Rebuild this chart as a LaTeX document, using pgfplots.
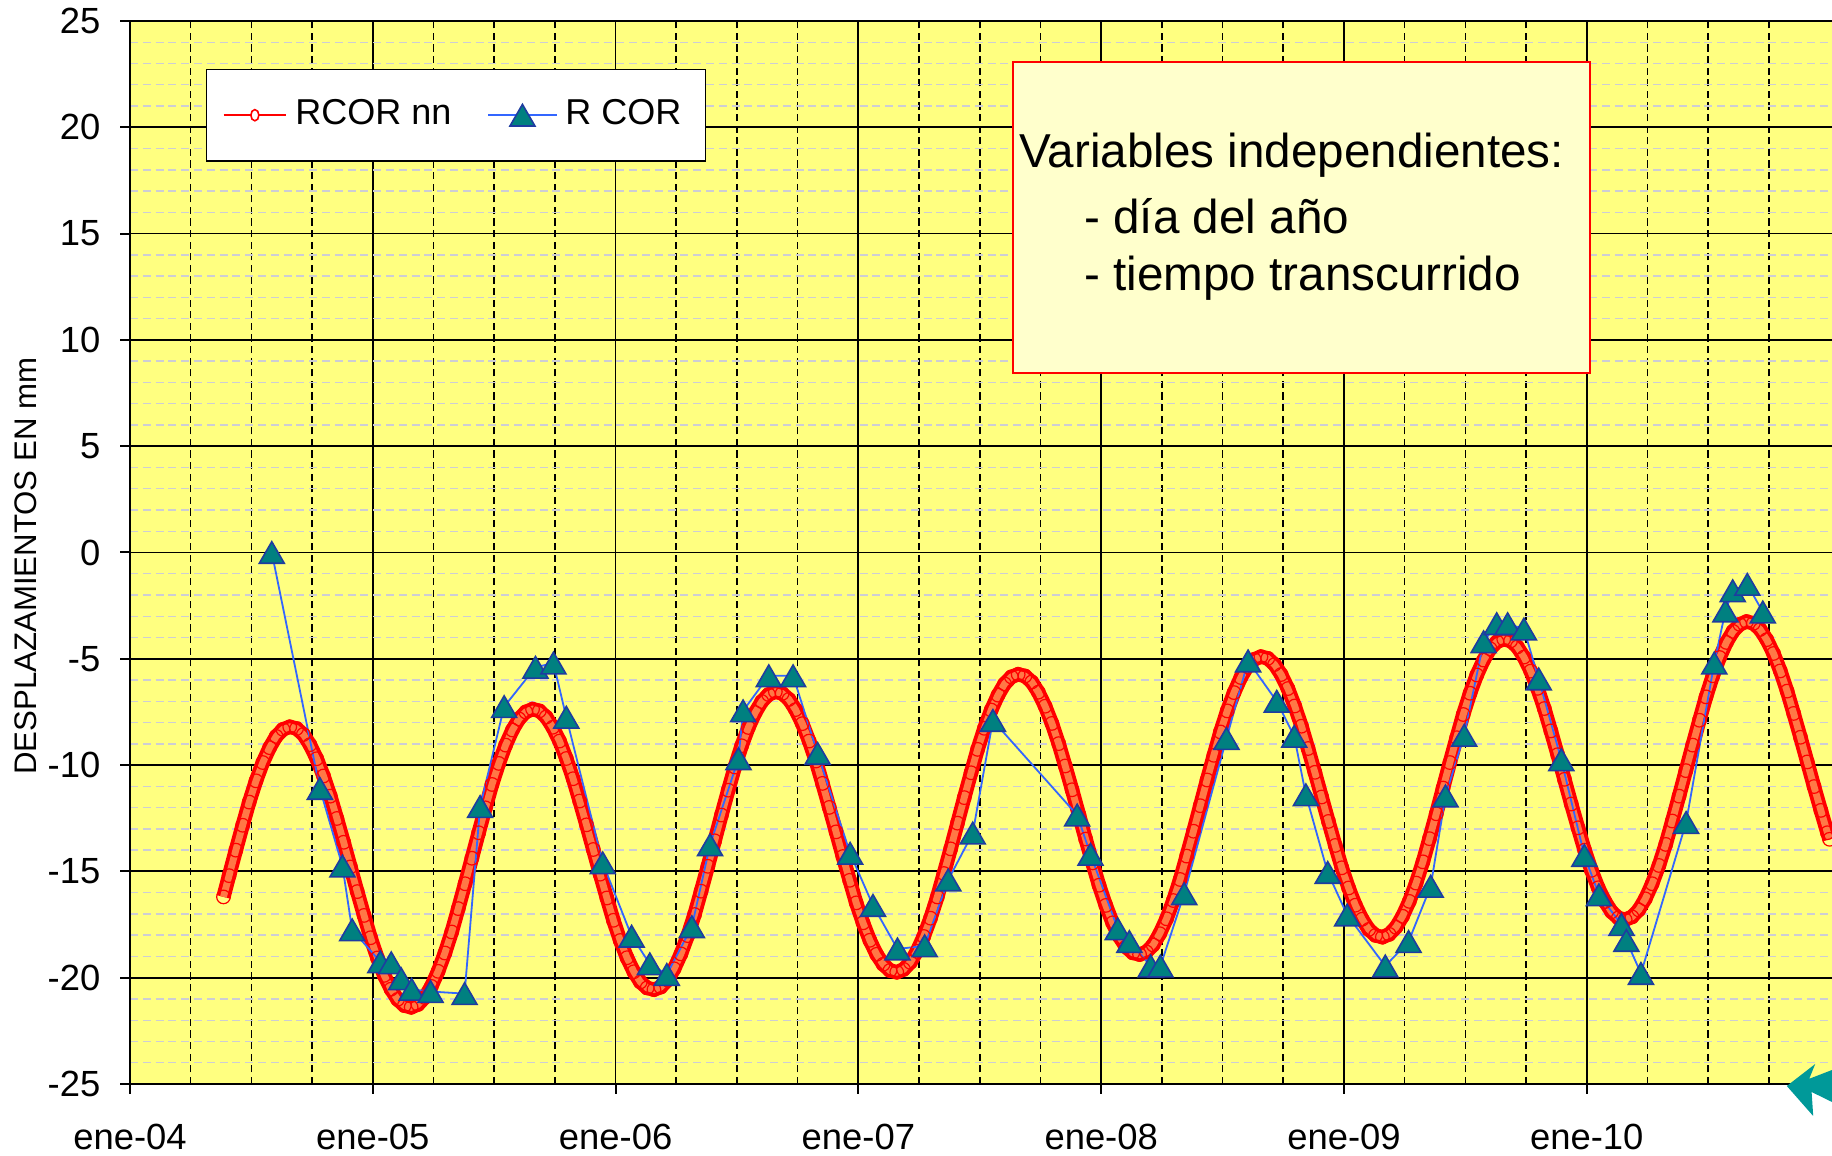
\documentclass[border=0pt]{standalone}
\usepackage{fontspec}
\setmainfont{Liberation Sans}
\usepackage{pgfplots}
\usepackage{pgfplotstable}
\pgfplotsset{compat=1.18}

\definecolor{plotyellow}{RGB}{255,255,128}
\definecolor{boxyellow}{RGB}{255,255,204}
\definecolor{lineblue}{RGB}{51,102,255}
\definecolor{markteal}{RGB}{0,128,128}
\definecolor{markedge}{RGB}{30,60,160}
\definecolor{minorgray}{RGB}{205,205,212}
\definecolor{arrowteal}{RGB}{0,153,153}
\definecolor{bandfill}{RGB}{255,120,70}

% RCOR nn (modelo): x = anos desde ene-04
\pgfplotstableread[row sep=\\]{
x y\\
0.385 -16.20\\
0.408 -15.20\\ 0.436 -14.00\\ 0.464 -12.83\\ 0.491 -11.74\\ 0.519 -10.74\\ 0.547 -9.88\\ 0.575 -9.18\\ 0.602 -8.65\\ 0.630 -8.32\\
0.658 -8.20\\ 0.686 -8.28\\ 0.714 -8.56\\ 0.741 -9.04\\ 0.769 -9.70\\ 0.797 -10.51\\ 0.825 -11.46\\ 0.852 -12.51\\ 0.880 -13.63\\ 0.908 -14.79\\ 0.936 -15.95\\ 0.964 -17.07\\ 0.991 -18.12\\ 1.019 -19.07\\ 1.047 -19.89\\ 1.075 -20.54\\ 1.102 -21.02\\ 1.130 -21.31\\ 1.158 -21.39\\ 1.186 -21.26\\ 1.214 -20.93\\ 1.241 -20.41\\ 1.269 -19.70\\ 1.297 -18.84\\ 1.325 -17.85\\ 1.352 -16.75\\ 1.380 -15.58\\ 1.408 -14.38\\ 1.436 -13.18\\ 1.464 -12.01\\ 1.491 -10.91\\ 1.519 -9.92\\ 1.547 -9.06\\ 1.575 -8.35\\ 1.602 -7.83\\ 1.630 -7.50\\
1.658 -7.37\\ 1.686 -7.45\\ 1.714 -7.74\\ 1.741 -8.22\\ 1.769 -8.87\\ 1.797 -9.69\\ 1.825 -10.64\\ 1.852 -11.69\\ 1.880 -12.81\\ 1.908 -13.97\\ 1.936 -15.13\\ 1.964 -16.25\\ 1.991 -17.30\\ 2.019 -18.25\\ 2.047 -19.06\\ 2.075 -19.72\\ 2.102 -20.20\\ 2.130 -20.48\\ 2.158 -20.56\\ 2.186 -20.44\\ 2.214 -20.11\\ 2.241 -19.58\\ 2.269 -18.88\\ 2.297 -18.02\\ 2.325 -17.03\\ 2.352 -15.93\\ 2.380 -14.76\\ 2.408 -13.56\\ 2.436 -12.35\\ 2.464 -11.18\\ 2.491 -10.09\\ 2.519 -9.09\\ 2.547 -8.23\\ 2.575 -7.53\\ 2.602 -7.01\\ 2.630 -6.68\\
2.658 -6.55\\ 2.686 -6.63\\ 2.714 -6.91\\ 2.741 -7.39\\ 2.769 -8.05\\ 2.797 -8.87\\ 2.825 -9.81\\ 2.852 -10.86\\ 2.880 -11.99\\ 2.908 -13.14\\ 2.936 -14.30\\ 2.964 -15.42\\ 2.991 -16.48\\ 3.019 -17.42\\ 3.047 -18.24\\ 3.075 -18.90\\ 3.102 -19.37\\ 3.130 -19.66\\ 3.158 -19.74\\ 3.186 -19.61\\ 3.214 -19.28\\ 3.241 -18.76\\ 3.269 -18.06\\ 3.297 -17.20\\ 3.325 -16.20\\ 3.352 -15.10\\ 3.380 -13.94\\ 3.408 -12.73\\ 3.436 -11.53\\ 3.464 -10.36\\ 3.491 -9.26\\ 3.519 -8.27\\ 3.547 -7.41\\ 3.575 -6.71\\ 3.602 -6.18\\ 3.630 -5.85\\
3.658 -5.73\\ 3.686 -5.81\\ 3.714 -6.09\\ 3.741 -6.57\\ 3.769 -7.23\\ 3.797 -8.04\\ 3.825 -8.99\\ 3.852 -10.04\\ 3.880 -11.16\\ 3.908 -12.32\\ 3.936 -13.48\\ 3.964 -14.60\\ 3.991 -15.65\\ 4.019 -16.60\\ 4.047 -17.42\\ 4.075 -18.07\\ 4.102 -18.55\\ 4.130 -18.83\\ 4.158 -18.91\\ 4.186 -18.79\\ 4.214 -18.46\\ 4.241 -17.93\\ 4.269 -17.23\\ 4.297 -16.37\\ 4.325 -15.38\\ 4.352 -14.28\\ 4.380 -13.11\\ 4.408 -11.91\\ 4.436 -10.70\\ 4.464 -9.54\\ 4.491 -8.44\\ 4.519 -7.45\\ 4.547 -6.59\\ 4.575 -5.88\\ 4.602 -5.36\\ 4.630 -5.03\\
4.658 -4.90\\ 4.686 -4.98\\ 4.714 -5.27\\ 4.741 -5.74\\ 4.769 -6.40\\ 4.797 -7.22\\ 4.825 -8.17\\ 4.852 -9.22\\ 4.880 -10.34\\ 4.908 -11.50\\ 4.936 -12.65\\ 4.964 -13.78\\ 4.991 -14.83\\ 5.019 -15.78\\ 5.047 -16.59\\ 5.075 -17.25\\ 5.102 -17.73\\ 5.130 -18.01\\ 5.158 -18.09\\ 5.186 -17.96\\ 5.214 -17.63\\ 5.241 -17.11\\ 5.269 -16.41\\ 5.297 -15.55\\ 5.325 -14.55\\ 5.352 -13.46\\ 5.380 -12.29\\ 5.408 -11.08\\ 5.436 -9.88\\ 5.464 -8.71\\ 5.491 -7.62\\ 5.519 -6.62\\ 5.547 -5.76\\ 5.575 -5.06\\ 5.602 -4.53\\ 5.630 -4.20\\
5.658 -4.08\\ 5.686 -4.16\\ 5.714 -4.44\\ 5.741 -4.92\\ 5.769 -5.58\\ 5.797 -6.39\\ 5.825 -7.34\\ 5.852 -8.39\\ 5.880 -9.51\\ 5.908 -10.67\\ 5.936 -11.83\\ 5.964 -12.95\\ 5.991 -14.00\\ 6.019 -14.95\\ 6.047 -15.77\\ 6.075 -16.42\\ 6.102 -16.90\\ 6.130 -17.19\\ 6.158 -17.27\\ 6.186 -17.14\\ 6.214 -16.81\\ 6.241 -16.29\\ 6.269 -15.58\\ 6.297 -14.72\\ 6.325 -13.73\\ 6.352 -12.63\\ 6.380 -11.46\\ 6.408 -10.26\\ 6.436 -9.06\\ 6.464 -7.89\\ 6.491 -6.79\\ 6.519 -5.80\\ 6.547 -4.94\\ 6.575 -4.23\\ 6.602 -3.71\\ 6.630 -3.38\\
6.658 -3.25\\ 6.686 -3.33\\ 6.714 -3.62\\ 6.741 -4.10\\ 6.769 -4.75\\ 6.797 -5.57\\ 6.825 -6.52\\ 6.852 -7.57\\ 6.880 -8.69\\ 6.908 -9.85\\ 6.936 -11.01\\ 6.964 -12.13\\ 6.991 -13.18\\ 7.000 -13.49\\
}\rcornn

% R COR (medidas)
\pgfplotstableread[row sep=\\]{
x y\\
0.584 0.0\\ 0.782 -11.1\\ 0.875 -14.75\\ 0.915 -17.75\\ 1.031 -19.25\\ 1.076 -19.3\\
1.117 -20.05\\ 1.160 -20.55\\ 1.238 -20.65\\ 1.378 -20.75\\ 1.442 -11.95\\ 1.541 -7.25\\
1.670 -5.4\\ 1.744 -5.2\\ 1.797 -7.75\\ 1.947 -14.6\\ 2.066 -18.05\\ 2.141 -19.35\\
2.211 -19.85\\ 2.314 -17.6\\ 2.389 -13.75\\ 2.506 -9.7\\ 2.525 -7.45\\ 2.631 -5.8\\
2.731 -5.8\\ 2.832 -9.45\\ 2.966 -14.15\\ 3.060 -16.6\\ 3.161 -18.65\\ 3.273 -18.5\\
3.370 -15.4\\ 3.471 -13.2\\ 3.554 -7.9\\ 3.901 -12.35\\ 3.956 -14.2\\ 4.068 -17.7\\
4.116 -18.3\\ 4.204 -19.45\\ 4.244 -19.45\\ 4.342 -16.05\\ 4.516 -8.75\\ 4.605 -5.1\\
4.723 -7.0\\ 4.795 -8.65\\ 4.843 -11.4\\ 4.933 -15.05\\ 5.013 -17.05\\ 5.170 -19.45\\
5.266 -18.3\\ 5.357 -15.7\\ 5.418 -11.45\\ 5.495 -8.6\\ 5.575 -4.2\\ 5.629 -3.35\\
5.674 -3.35\\ 5.741 -3.6\\ 5.802 -5.95\\ 5.895 -9.75\\ 5.990 -14.25\\ 6.050 -16.1\\
6.143 -17.5\\ 6.163 -18.25\\ 6.223 -19.8\\ 6.409 -12.7\\ 6.525 -5.2\\ 6.571 -2.75\\
6.601 -1.8\\ 6.661 -1.5\\ 6.725 -2.8\\
}\rcor

\begin{document}
\begin{tikzpicture}
\begin{axis}[
  width=425.5pt, height=265.75pt, scale only axis,
  xmin=0, xmax=7.01, ymin=-25, ymax=25,
  axis x line=bottom, axis y line=left,
  axis line style={-, black, line width=0.6pt},
  axis background/.style={fill=plotyellow},
  xtick={0,1,2,3,4,5,6},
  xticklabels={ene-04,ene-05,ene-06,ene-07,ene-08,ene-09,ene-10},
  minor xtick={0.25,0.5,0.75,1.25,1.5,1.75,2.25,2.5,2.75,3.25,3.5,3.75,4.25,4.5,4.75,5.25,5.5,5.75,6.25,6.5,6.75},
  ytick={-25,-20,-15,-10,-5,0,5,10,15,20,25},
  yticklabels={-25,-20,-15,-10,-5,0,5,10,15,20,25},
  minor y tick num=4,
  tick align=outside, major tick length=2.4pt, minor tick length=0pt,
  tick style={black, line width=0.5pt},
  grid=both,
  major grid style={black, line width=0.45pt},
  minor x grid style={black, line width=0.4pt, dash pattern=on 1.8pt off 1.1pt},
  minor y grid style={minorgray, line width=0.35pt, dash pattern=on 2pt off 1.2pt},
  tick label style={font=\fontsize{9.1}{11}\selectfont},
  xticklabel style={yshift=-4pt},
  yticklabel style={xshift=-1.5pt},
  every axis y label/.style={at={(axis description cs:-0.061,0.487)}, rotate=90, anchor=center},
  ylabel={DESPLAZAMIENTOS EN mm},
  ylabel style={font=\fontsize{7.8}{9}\selectfont},
  legend style={at={(0.0444,0.955)}, anchor=north west, draw=black, fill=white,
    font=\fontsize{9}{11}\selectfont, inner xsep=4pt, inner ysep=5.5pt,
    /tikz/every even column/.append style={column sep=7pt}},
  legend columns=2,
  legend cell align=left,
]

% banda roja: linea doble y circulos en cada punto
\addplot[red, line width=0.95pt, double=bandfill, double distance=1.7pt, mark=none, forget plot]
  table[x=x, y=y] {\rcornn};
\addplot[red, line width=0.3pt, mark=o, mark size=1.7pt, only marks, forget plot]
  table[x=x, y=y] {\rcornn};
\addlegendimage{red, legend image code/.code={%
  \draw[line width=0.6pt] (0cm,0cm) -- (0.55cm,0cm);
  \draw[line width=0.4pt, fill=white] (0.275cm,0cm) ellipse (1.0pt and 1.4pt);}}
\addlegendentry{RCOR nn}

\addplot[color=lineblue, line width=0.45pt, mark=triangle*, mark size=3.6pt,
  mark options={solid, fill=markteal, draw=markedge, line width=0.4pt, yshift=-0.9pt}]
  table[x=x, y=y] {\rcor};
\addlegendentry{R COR}

\node[draw=red, fill=boxyellow, line width=0.5pt, anchor=north west,
  minimum width=144.3pt, minimum height=77.7pt, inner sep=0pt] (tb) at (rel axis cs:0.518,0.9626) {};
\node[anchor=west, inner sep=0pt, font=\fontsize{11.9}{14}\selectfont]
  at ([xshift=1.8pt,yshift=-23.6pt]tb.north west) {Variables independientes:};
\node[anchor=west, inner sep=0pt, font=\fontsize{11.9}{14}\selectfont]
  at ([xshift=18pt,yshift=-38.9pt]tb.north west) {- día del año};
\node[anchor=west, inner sep=0pt, font=\fontsize{11.9}{14}\selectfont]
  at ([xshift=18pt,yshift=-54.3pt]tb.north west) {- tiempo transcurrido};

\coordinate (O) at (rel axis cs:0,0);
\end{axis}

\begin{scope}[shift={(O)}]
\fill[arrowteal] (414.2pt,-0.5pt) -- (421.3pt,5.0pt) -- (419.8pt,1.3pt) -- (425.5pt,3.5pt)
  -- (425.5pt,-4.5pt) -- (420.4pt,-2pt) -- (420.8pt,-8pt) -- cycle;
\end{scope}

\pgfresetboundingbox
\path[use as bounding box] ([shift={(-32.5pt,-18pt)}]O) rectangle ([shift={(425.5pt,271pt)}]O);
\end{tikzpicture}
\end{document}
